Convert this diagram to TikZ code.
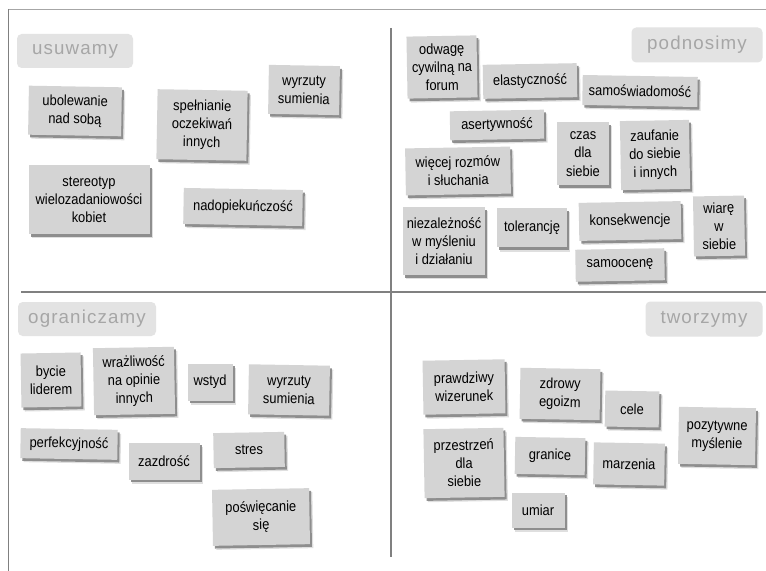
\documentclass[tikz,border=0pt]{standalone}
\usepackage{fontspec}
\setmainfont{Liberation Sans}[FakeStretch=0.88]
\newfontfamily\labfont{Liberation Sans}[LetterSpace=6]
\usetikzlibrary{shadows}

\begin{document}
\begin{tikzpicture}[x=0.03cm,y=-0.03cm,
  note/.style={fill=black!17,align=center,inner sep=1pt,
    font=\fontsize{12.5}{15.5}\selectfont,
    drop shadow={shadow xshift=1mm,shadow yshift=-1.2mm,opacity=0.25},
    drop shadow={shadow xshift=0.6mm,shadow yshift=-0.8mm,opacity=0.85}},
  sz/.style 2 args={minimum width=#1*0.03cm,minimum height=#2*0.03cm},
  group/.style={fill=black!11,text=black!35,rounded corners=4pt,
    font=\labfont\fontsize{16}{18}\selectfont}]
  \useasboundingbox[fill=white] (0,0) rectangle (766,571);

  % frame and cross
  \draw[black!35] (8,9) -- (766,9);
  \draw[black!50] (8,9) -- (8,571);
  \draw[gray,line width=1.7pt] (391,28) -- (391,557);
  \draw[gray,line width=1.7pt] (21,292) -- (766,292);

  % group labels
  \node[group,sz={116}{34}] (usuwamy) at (75,51) {usuwamy};
  \node[group,sz={131}{35}] (podnosimy) at (697,45) {podnosimy};
  \node[group,sz={138}{34}] (ograniczamy) at (87,319) {ograniczamy};
  \node[group,sz={117}{35}] (tworzymy) at (704,319) {tworzymy};

  % usuwamy
  \node[note,sz={93}{49},rotate=-1] (u1) at (75,111) {ubolewanie\\nad sobą};
  \node[note,sz={90}{70},rotate=-1] (u2) at (202,125) {spełnianie\\oczekiwań\\innych};
  \node[note,sz={71}{49},rotate=-1] (u3) at (304,90) {wyrzuty\\sumienia};
  \node[note,sz={121}{69}] (u4) at (89,200) {stereotyp\\wielozadaniowości\\kobiet};
  \node[note,sz={119}{36},rotate=-1] (u5) at (243,207) {nadopiekuńczość};

  % podnosimy
  \node[note,sz={70}{62},rotate=1] (p1) at (442,67) {odwagę\\cywilną na\\forum};
  \node[note,sz={94}{34},rotate=1] (p2) at (530,81) {elastyczność};
  \node[note,sz={115}{30},rotate=-1] (p3) at (640,91) {samoświadomość};
  \node[note,sz={94}{29},rotate=1] (p4) at (497,125) {asertywność};
  \node[note,sz={52}{63}] (p5) at (583,154) {czas\\dla\\siebie};
  \node[note,sz={69}{69},rotate=1] (p6) at (655,155) {zaufanie\\do siebie\\i innych};
  \node[note,sz={105}{47},rotate=1] (p7) at (458,171) {więcej rozmów\\i słuchania};
  \node[note,sz={82}{68}] (p8) at (444,241) {niezależność\\w myśleniu\\i działaniu};
  \node[note,sz={70}{39}] (p9) at (532,228) {tolerancję};
  \node[note,sz={102}{38},rotate=1] (p10) at (630,221) {konsekwencje};
  \node[note,sz={51}{60},rotate=1] (p11) at (719,226) {wiarę\\w\\siebie};
  \node[note,sz={89}{32},rotate=1] (p12) at (620,265) {samoocenę};

  % ograniczamy
  \node[note,sz={60}{54},rotate=1] (o1) at (51,380) {bycie\\liderem};
  \node[note,sz={81}{67},rotate=1] (o2) at (134,381) {wrażliwość\\na opinie\\innych};
  \node[note,sz={45}{37}] (o3) at (210,382) {wstyd};
  \node[note,sz={81}{50},rotate=-1] (o4) at (289,390) {wyrzuty\\sumienia};
  \node[note,sz={97}{30},rotate=-1] (o5) at (69,444) {perfekcyjność};
  \node[note,sz={71}{37}] (o6) at (164,461) {zazdrość};
  \node[note,sz={71}{35},rotate=1] (o7) at (249,450) {stres};
  \node[note,sz={97}{56},rotate=1] (o8) at (261,517) {poświęcanie\\się};

  % tworzymy
  \node[note,sz={82}{54},rotate=1] (t1) at (464,387) {prawdziwy\\wizerunek};
  \node[note,sz={80}{51},rotate=-1] (t2) at (560,394) {zdrowy\\egoizm};
  \node[note,sz={54}{36},rotate=-1] (t3) at (632,409) {cele};
  \node[note,sz={77}{57},rotate=-1] (t4) at (717,436) {pozytywne\\myślenie};
  \node[note,sz={80}{69},rotate=1] (t5) at (464,463) {przestrzeń\\dla\\siebie};
  \node[note,sz={70}{37},rotate=-1] (t6) at (550,456) {granice};
  \node[note,sz={71}{42},rotate=-1] (t7) at (629,464) {marzenia};
  \node[note,sz={53}{35}] (t8) at (538,510) {umiar};
\end{tikzpicture}
\end{document}
